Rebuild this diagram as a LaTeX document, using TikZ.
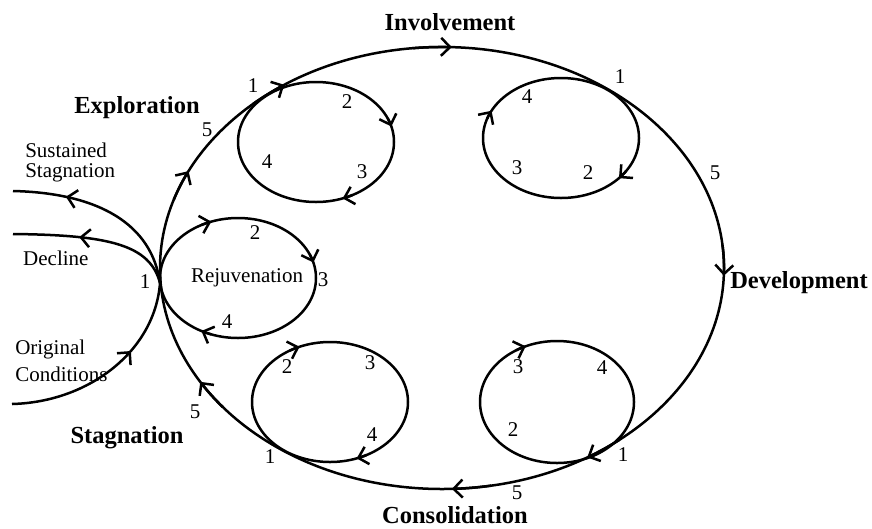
\documentclass[tikz,border=0pt]{standalone}
\usepackage{fontspec}
\setmainfont{Liberation Serif}
\usetikzlibrary{arrows.meta,decorations.markings}
\newcommand\earrow[5]{\draw[barb] ({#1+#3*cos(#5-8)},{#2+#4*sin(#5-8)}) arc[start angle=#5-8, end angle=#5, x radius=#3, y radius=#4];}
\begin{document}
\begin{tikzpicture}[x=1pt,y=-1pt, line width=2.5pt,
  barb/.style={-{Straight Barb[length=9pt,width=18pt]}},
  midarrow/.style={postaction={decorate},decoration={markings,mark=at position #1 with {\arrow{Straight Barb[length=9pt,width=18pt]}}}},
  num/.style={font=\fontsize{21}{21}\selectfont, inner sep=0pt},
  lab/.style={font=\fontsize{21}{22}\selectfont, inner sep=0pt, align=left, anchor=west},
  stage/.style={font=\fontsize{24.5}{26}\selectfont\bfseries, inner sep=0pt}]
\useasboundingbox (0,0) rectangle (872,528);
\coordinate (P1) at (160,283);
\coordinate (SS) at (13,191);
\coordinate (DE) at (13,234);
\coordinate (OC) at (12,404);
% big cycle
\draw (442,268) ellipse [x radius=282, y radius=221];
% loops
\draw (316,142) ellipse [x radius=78, y radius=60];
\draw (561,138) ellipse [x radius=78, y radius=60];
\draw (330,402) ellipse [x radius=78, y radius=60];
\draw (557,402) ellipse [x radius=77, y radius=61];
\draw (238,278) ellipse [x radius=78, y radius=60];
% left branches
\draw[midarrow=0.72] (P1) .. controls (152,225) and (100,193) .. (SS);
\draw[midarrow=0.6] (P1) .. controls (150,245) and (110,235) .. (DE);
\draw[midarrow=0.64] (OC) .. controls (90,402) and (155,350) .. (P1);
% arrows on big cycle
\earrow{442}{268}{282}{221}{206}
\earrow{442}{268}{282}{221}{236}
\earrow{442}{268}{282}{221}{272}
\earrow{442}{268}{282}{221}{2}
\earrow{442}{268}{282}{221}{59}
\earrow{442}{268}{282}{221}{88}
\earrow{442}{268}{282}{221}{149}
% arrows on loops
\earrow{316}{142}{78}{60}{345}
\earrow{316}{142}{78}{60}{70}
\earrow{561}{138}{78}{60}{42}
\earrow{561}{138}{78}{60}{207}
\earrow{330}{402}{78}{60}{247}
\earrow{330}{402}{78}{60}{70}
\earrow{557}{402}{77}{61}{246}
\earrow{238}{278}{78}{60}{250}
\earrow{238}{278}{78}{60}{345}
\earrow{238}{278}{78}{60}{118}
% stage labels
\node[stage] (inv) at (450,22) {Involvement};
\node[stage] (exp) at (137,108) {Exploration};
\node[stage] (stg) at (127,438) {Stagnation};
\node[stage] (dev) at (799,283) {Development};
\node[stage] (con) at (455,515) {Consolidation};
\node[lab, font=\fontsize{21}{20}\selectfont] (sus) at (24,162) {Sustained\\Stagnation};
\node[lab] (dec) at (22,258) {Decline};
\node[lab, font=\fontsize{21}{27}\selectfont] (ori) at (14,361) {Original\\Conditions};
\node[font=\fontsize{21}{22}\selectfont, inner sep=0pt] (rej) at (247,278) {Rejuvenation};
% numbers
\node[num] at (253,86) {1};
\node[num] at (347,102) {2};
\node[num] at (362,172) {3};
\node[num] at (267,162) {4};
\node[num] at (207,130) {5};
\node[num] at (620,77) {1};
\node[num] at (588,173) {2};
\node[num] at (517,168) {3};
\node[num] at (527,97) {4};
\node[num] at (715,173) {5};
\node[num] at (145,282) {1};
\node[num] at (255,233) {2};
\node[num] at (323,280) {3};
\node[num] at (227,322) {4};
\node[num] at (270,457) {1};
\node[num] at (287,367) {2};
\node[num] at (370,363) {3};
\node[num] at (372,435) {4};
\node[num] at (195,412) {5};
\node[num] at (623,455) {1};
\node[num] at (513,430) {2};
\node[num] at (518,367) {3};
\node[num] at (602,368) {4};
\node[num] at (517,493) {5};
\end{tikzpicture}
\end{document}
